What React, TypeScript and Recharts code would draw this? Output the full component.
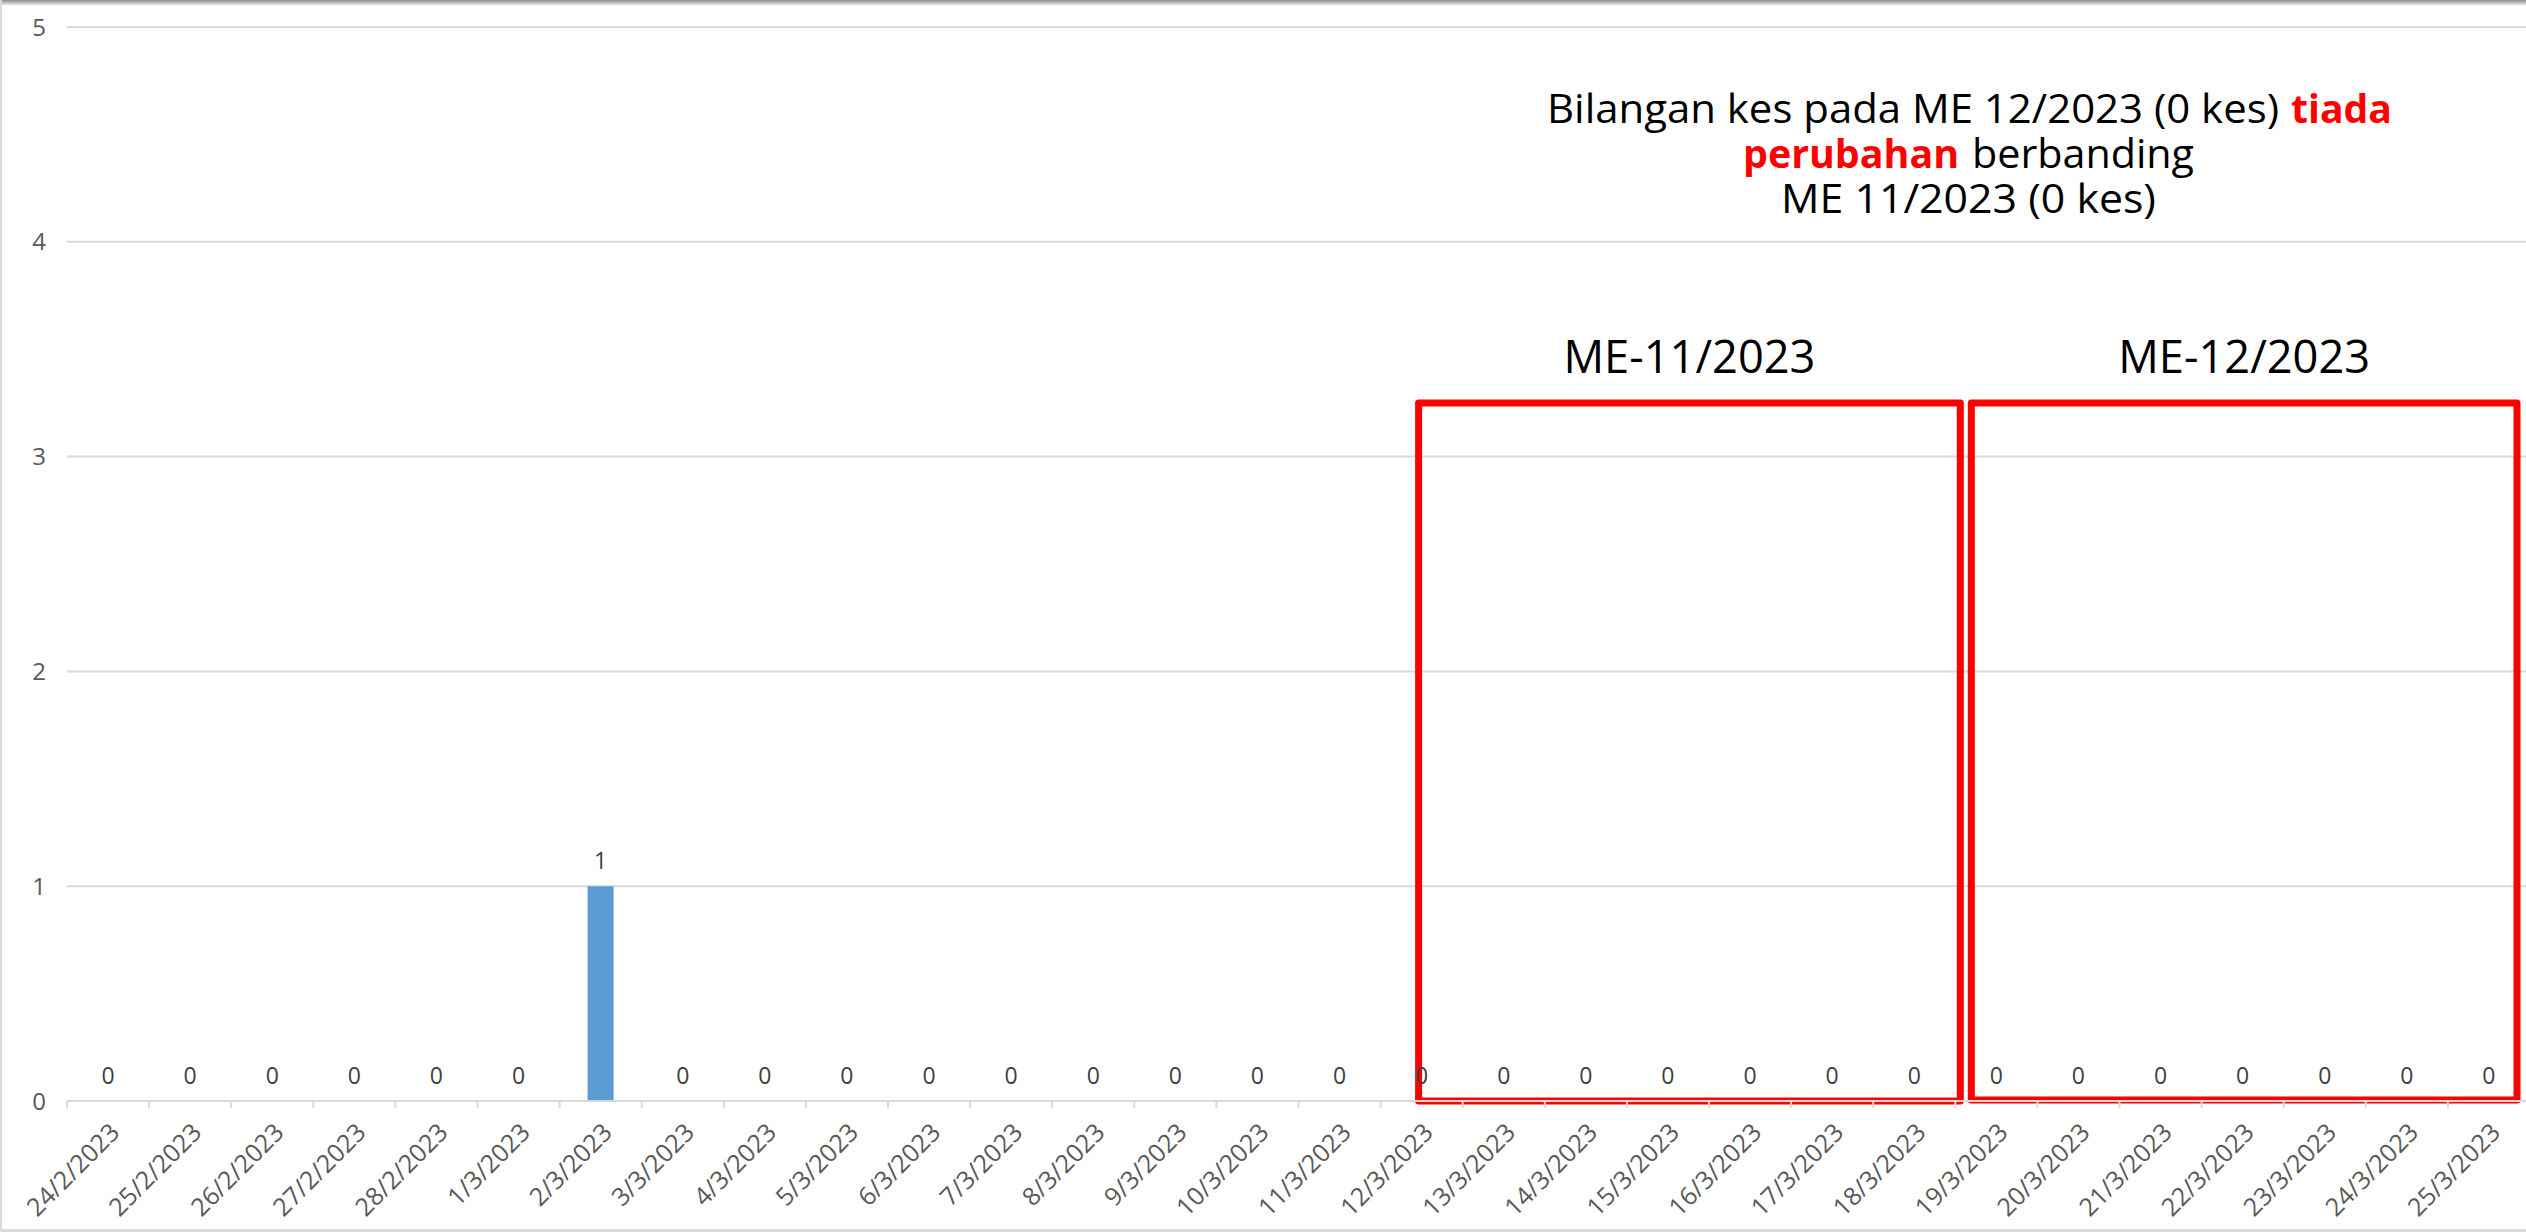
import { Bar, CartesianGrid, ComposedChart, LabelList, Line, ReferenceArea, XAxis, YAxis } from "recharts";

const dates = [
  "24/2/2023", "25/2/2023", "26/2/2023", "27/2/2023", "28/2/2023", "1/3/2023",
  "2/3/2023", "3/3/2023", "4/3/2023", "5/3/2023", "6/3/2023", "7/3/2023",
  "8/3/2023", "9/3/2023", "10/3/2023", "11/3/2023", "12/3/2023", "13/3/2023",
  "14/3/2023", "15/3/2023", "16/3/2023", "17/3/2023", "18/3/2023", "19/3/2023",
  "20/3/2023", "21/3/2023", "22/3/2023", "23/3/2023", "24/3/2023", "25/3/2023",
];
const cases = [0, 0, 0, 0, 0, 0, 1, 0, 0, 0, 0, 0, 0, 0, 0, 0, 0, 0, 0, 0, 0, 0, 0, 0, 0, 0, 0, 0, 0, 0];
const yTicks = [0, 1, 2, 3, 4, 5];

// weeks marked with red boxes
const weeks = [
  { label: "ME-11/2023", from: "12/3/2023", to: "18/3/2023", top: 3.25, dx1: 38, dx2: 5, dy2: 0 },
  { label: "ME-12/2023", from: "19/3/2023", to: "25/3/2023", top: 3.25, dx1: 16, dx2: -13, dy2: -1 },
];

const data = dates.map((date, i) => ({ date, cases: cases[i] }));

const W = 2532;
const H = 1232;
const M = { top: 27, right: 2, bottom: 0, left: 0 };
const Y_AXIS_W = 67;
const X_AXIS_H = 131;
const BAND = (W - M.left - M.right - Y_AXIS_W) / dates.length;

const FONT = "'Open Sans', 'Liberation Sans', sans-serif";
const GREY = "#D9D9D9";
const TEXT = "#595959";

function DateTick({ x, y, payload }: any) {
  return (
    <g>
      <line x1={x - BAND / 2} x2={x - BAND / 2} y1={y} y2={y + 7} stroke={GREY} strokeWidth={2} />
      <text
        transform={`translate(${x + 13},${y + 33}) rotate(-45)`}
        textAnchor="end"
        fill={TEXT}
        fontSize={25}
        fontFamily={FONT}
      >
        {payload.value}
      </text>
    </g>
  );
}

function weekBox(w: (typeof weeks)[number]) {
  return (props: any) => {
    const x1 = props.x + w.dx1;
    const x2 = props.x + props.width + w.dx2;
    const y1 = props.y;
    const y2 = props.y + props.height + w.dy2;
    return (
      <g>
        <rect
          x={x1}
          y={y1}
          width={x2 - x1}
          height={y2 - y1}
          fill="none"
          stroke="#FF0000"
          strokeWidth={7}
          strokeLinejoin="round"
        />
        <text
          x={(x1 + x2) / 2}
          y={y1 - 30}
          textAnchor="middle"
          fontSize={46}
          fontFamily={FONT}
          fill="#000"
          textLength={252}
          lengthAdjust="spacingAndGlyphs"
        >
          {w.label}
        </text>
      </g>
    );
  };
}

function Note() {
  const common = { fontFamily: FONT, fontSize: 40, lengthAdjust: "spacingAndGlyphs" as const };
  return (
    <svg width={2526} height={300} style={{ position: "absolute", left: 0, top: 0, pointerEvents: "none" }}>
      <text x={1547} y={123} fill="#000" textLength={732} {...common}>
        Bilangan kes pada ME 12/2023 (0 kes)
      </text>
      <text x={2291} y={123} fill="#FF0000" fontWeight="bold" textLength={101} {...common}>
        tiada
      </text>
      <text x={1743} y={168} fill="#FF0000" fontWeight="bold" textLength={216} {...common}>
        perubahan
      </text>
      <text x={1972} y={168} fill="#000" textLength={222} {...common}>
        berbanding
      </text>
      <text x={1781} y={213} fill="#000" textLength={375} {...common}>
        ME 11/2023 (0 kes)
      </text>
    </svg>
  );
}

export default function App() {
  return (
    <div
      style={{
        position: "absolute",
        left: 0,
        top: 0,
        width: 2526,
        height: 1232,
        overflow: "hidden",
        background: "#fff",
      }}
    >
      <ComposedChart width={W} height={H} data={data} margin={M} barCategoryGap={0}>
        <CartesianGrid vertical={false} stroke={GREY} strokeWidth={2} />
        <XAxis
          dataKey="date"
          interval={0}
          height={X_AXIS_H}
          axisLine={{ stroke: GREY, strokeWidth: 2 }}
          tickLine={false}
          tickSize={0}
          tickMargin={0}
          tick={<DateTick />}
        />
        <YAxis
          domain={[0, 5]}
          ticks={yTicks}
          width={Y_AXIS_W}
          axisLine={false}
          tickLine={false}
          tickSize={0}
          tickMargin={21}
          tick={{ fill: TEXT, fontSize: 24, fontFamily: FONT }}
        />
        <Bar dataKey="cases" fill="#5B9BD5" barSize={26} isAnimationActive={false} />
        {/* invisible line only carries the value labels, so zero days get their "0" too */}
        <Line
          dataKey="cases"
          stroke="none"
          dot={false}
          activeDot={false}
          legendType="none"
          isAnimationActive={false}
        >
          <LabelList dataKey="cases" position="top" offset={17} fill="#404040" fontSize={23} fontFamily={FONT} />
        </Line>
        {weeks.map((w) => (
          <ReferenceArea
            key={w.label}
            x1={w.from}
            x2={w.to}
            y1={0}
            y2={w.top}
            ifOverflow="visible"
            shape={weekBox(w)}
          />
        ))}
      </ComposedChart>
      <Note />
      <div
        style={{
          position: "absolute",
          left: 0,
          top: 0,
          width: 2526,
          height: 6,
          background: "linear-gradient(#8a8a8a, #ffffff)",
        }}
      />
      <div style={{ position: "absolute", left: 0, top: 0, width: 2, height: 1232, background: GREY }} />
      <div style={{ position: "absolute", left: 0, top: 1229, width: 2526, height: 3, background: GREY }} />
    </div>
  );
}
